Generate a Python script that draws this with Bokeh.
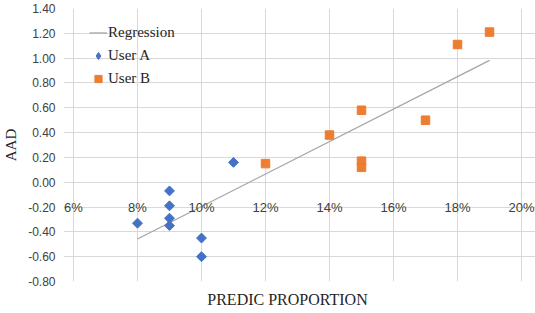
import numpy as np
from bokeh.plotting import figure
from bokeh.models import (FixedTicker, NumeralTickFormatter, Label, Legend,
                          LegendItem)
from bokeh.embed import file_html
from bokeh.resources import INLINE

# ---- data ----
user_a_x = [0.08, 0.09, 0.09, 0.09, 0.09, 0.10, 0.10, 0.11]
user_a_y = [-0.33, -0.07, -0.19, -0.29, -0.35, -0.45, -0.60, 0.16]
user_b_x = [0.12, 0.14, 0.15, 0.15, 0.15, 0.17, 0.18, 0.19]
user_b_y = [0.15, 0.38, 0.58, 0.17, 0.12, 0.50, 1.11, 1.21]

x_ticks = [0.06, 0.08, 0.10, 0.12, 0.14, 0.16, 0.18, 0.20]
x_tick_labels = ["6%", "8%", "10%", "12%", "14%", "16%", "18%", "20%"]
y_ticks = [-0.8, -0.6, -0.4, -0.2, 0.0, 0.2, 0.4, 0.6, 0.8, 1.0, 1.2, 1.4]

x_title = "PREDIC PROPORTION"
y_title = "AAD"

BLUE = "#4472C4"
ORANGE = "#ED7D31"
GRAY = "#A5A5A5"
GRID = "#D9D9D9"
TXT = "#404040"

# regression over all points
all_x = np.array(user_a_x + user_b_x)
all_y = np.array(user_a_y + user_b_y)
slope, intercept = np.polyfit(all_x, all_y, 1)
reg_x = [all_x.min(), all_x.max()]
reg_y = [slope * v + intercept for v in reg_x]

# a little room either side of the gridded area so the end labels fit
pad_l, pad_r = 0.00312, 0.00437
p = figure(width=535, height=313, output_backend="svg", toolbar_location=None,
           x_range=(x_ticks[0] - pad_l, x_ticks[-1] + pad_r),
           y_range=(y_ticks[0], y_ticks[-1]),
           min_border_left=62, min_border_right=0, min_border_top=8,
           min_border_bottom=32)
p.background_fill_color = "white"
p.border_fill_color = "white"
p.outline_line_color = None

# grid limited to the chart area
p.xaxis.ticker = FixedTicker(ticks=[])
p.yaxis.ticker = FixedTicker(ticks=y_ticks)
p.xgrid.ticker = FixedTicker(ticks=x_ticks)
p.xgrid.bounds = (y_ticks[0], y_ticks[-1])
p.ygrid.bounds = (x_ticks[0], x_ticks[-1])
p.xgrid.grid_line_color = GRID
p.ygrid.grid_line_color = GRID
p.xgrid.grid_line_width = 1
p.ygrid.grid_line_width = 1

# y axis
p.yaxis.formatter = NumeralTickFormatter(format="0.00")
p.yaxis.axis_line_color = None
p.yaxis.major_tick_line_color = None
p.yaxis.minor_tick_line_color = None
p.yaxis.major_label_standoff = 2
p.yaxis.major_label_text_font = "Liberation Sans"
p.yaxis.major_label_text_font_size = "12px"
p.yaxis.major_label_text_color = TXT
p.yaxis.axis_label = y_title
p.yaxis.axis_label_text_font = "Liberation Serif"
p.yaxis.axis_label_text_font_style = "normal"
p.yaxis.axis_label_text_font_size = "15px"
p.yaxis.axis_label_text_color = "#262626"
p.yaxis.axis_label_standoff = 6

# x axis: only the title; tick labels drawn at y = -0.20 like the original
p.xaxis.axis_line_color = None
p.xaxis.major_tick_line_color = None
p.xaxis.minor_tick_line_color = None
p.xaxis.major_label_standoff = 0
p.xaxis.axis_label = x_title + "\u00a0" * 6
p.xaxis.axis_label_text_font = "Liberation Serif"
p.xaxis.axis_label_text_font_style = "normal"
p.xaxis.axis_label_text_font_size = "16px"
p.xaxis.axis_label_text_color = "#262626"
p.xaxis.axis_label_standoff = 9

for xv, lab in zip(x_ticks, x_tick_labels):
    p.add_layout(Label(x=xv, y=-0.2, text=lab, text_align="center",
                       text_baseline="middle", text_font="Liberation Sans",
                       text_font_size="13px", text_color=TXT))

# glyphs
reg_r = p.line(reg_x, reg_y, line_color=GRAY, line_width=1.3)
a_r = p.scatter(user_a_x, user_a_y, marker="square", angle=np.pi / 4,
                size=7, fill_color=BLUE, line_color=BLUE)
b_r = p.scatter(user_b_x, user_b_y, marker="square", size=8.5,
                fill_color=ORANGE, line_color=ORANGE, line_join="round")
# legend swatch for the diamonds (the legend ignores the marker angle)
a_key = p.scatter([np.nan], [np.nan], marker="diamond", size=10.5,
                  fill_color=BLUE, line_color=BLUE)

legend = Legend(items=[LegendItem(label="Regression", renderers=[reg_r]),
                       LegendItem(label="User A", renderers=[a_key]),
                       LegendItem(label="User B", renderers=[b_r])],
                location=(26, 191), orientation="vertical",
                margin=0, padding=0, spacing=0,
                glyph_width=18, glyph_height=23, label_height=23,
                label_standoff=1,
                label_text_font="Liberation Serif", label_text_font_size="15px",
                label_text_color="#262626",
                background_fill_alpha=0, border_line_alpha=0)
p.add_layout(legend)

open("out.html", "w").write(file_html(p, INLINE))
